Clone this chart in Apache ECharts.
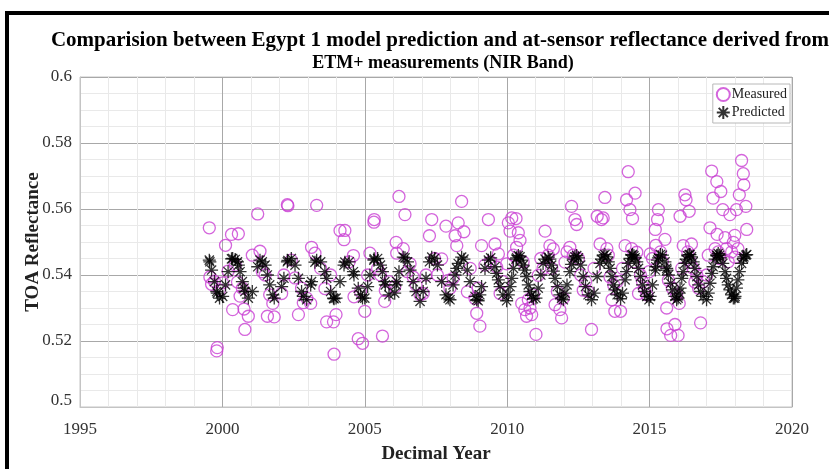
<!DOCTYPE html>
<html><head><meta charset="utf-8">
<script src="https://cdn.jsdelivr.net/npm/echarts@6/dist/echarts.min.js"></script>
<style>html,body{margin:0;padding:0;background:#fff}#c{width:829px;height:469px}</style>
</head><body><div id="c"></div>
<script>
const titleLines = ['Comparision between Egypt 1 model prediction and at-sensor reflectance derived from', 'ETM+ measurements (NIR Band)'];
const xTicks = [1995, 2000, 2005, 2010, 2015, 2020];
const yTicks = [0.5, 0.52, 0.54, 0.56, 0.58, 0.6];
const seriesNames = ['Measured', 'Predicted'];

const dates = [
 1999.54,1999.56,1999.62,1999.72,1999.80,1999.82,1999.90,2000.01,2000.11,2000.20,2000.32,2000.36,2000.45,2000.53,2000.56,2000.62,2000.70,2000.76,2000.79,2000.91,
 2001.05,2001.24,2001.32,2001.40,2001.50,2001.58,2001.66,2001.77,2001.82,2002.08,2002.16,2002.28,2002.30,2002.42,2002.55,2002.67,2002.78,2002.84,2002.96,
 2003.10,2003.13,2003.25,2003.31,2003.45,2003.60,2003.66,2003.80,2003.90,2003.92,2003.99,2004.13,2004.27,2004.30,2004.45,2004.60,2004.62,2004.77,2004.85,2004.92,
 2005.00,2005.10,2005.18,2005.32,2005.33,2005.45,2005.55,2005.62,2005.70,2005.72,2005.85,2006.05,2006.10,2006.12,2006.20,2006.35,2006.41,2006.50,2006.59,2006.70,2006.80,2006.94,
 2007.05,2007.15,2007.27,2007.35,2007.45,2007.55,2007.70,2007.85,2007.93,2007.99,2008.10,2008.17,2008.23,2008.28,2008.40,2008.48,2008.60,2008.70,2008.87,2008.93,2008.98,
 2009.04,2009.10,2009.22,2009.34,2009.42,2009.57,2009.63,2009.69,2009.75,2009.85,2009.98,2010.04,2010.10,2010.16,2010.22,2010.31,2010.33,2010.39,2010.45,2010.51,2010.56,2010.62,2010.68,2010.74,2010.80,2010.86,2010.92,
 2011.01,2011.09,2011.18,2011.26,2011.33,2011.44,2011.50,2011.56,2011.62,2011.68,2011.76,2011.85,2011.91,2011.97,2012.03,2012.10,2012.20,2012.26,2012.32,2012.38,2012.44,2012.50,2012.58,2012.67,2012.75,2012.84,2012.96,
 2013.05,2013.16,2013.26,2013.31,2013.37,2013.43,2013.50,2013.55,2013.61,2013.68,2013.74,2013.78,2013.86,2013.98,2014.05,2014.14,2014.19,2014.25,2014.31,2014.37,2014.40,2014.45,2014.49,2014.55,2014.61,2014.68,2014.75,2014.82,2014.90,2014.98,
 2015.02,2015.10,2015.20,2015.22,2015.28,2015.31,2015.38,2015.45,2015.54,2015.60,2015.61,2015.66,2015.74,2015.80,2015.89,2015.95,2016.00,2016.04,2016.07,2016.13,2016.18,2016.24,2016.28,2016.34,2016.39,2016.42,2016.47,2016.53,2016.59,2016.66,2016.72,2016.79,2016.88,
 2017.00,2017.06,2017.12,2017.18,2017.23,2017.30,2017.36,2017.37,2017.41,2017.46,2017.50,2017.57,2017.65,2017.70,2017.76,2017.82,2017.88,2017.94,2017.99,2018.00,2018.05,2018.10,2018.15,2018.23,2018.29,2018.31,2018.38,2018.41
];
const measured = [
 0.5543,0.5394,0.5372,0.5381,0.5170,0.5180,0.5355,0.5376,0.5490,0.5412,0.5523,0.5295,0.5430,0.5379,0.5525,0.5336,0.5360,0.5297,0.5235,0.5275,
 0.5460,0.5585,0.5472,0.5410,0.5400,0.5275,0.5340,0.5314,0.5273,0.5344,0.5400,0.5613,0.5610,0.5445,0.5391,0.5280,0.5360,0.5316,0.5330,
 0.5314,0.5484,0.5466,0.5611,0.5420,0.5359,0.5258,0.5400,0.5258,0.5160,0.5280,0.5535,0.5507,0.5535,0.5440,0.5459,0.5334,0.5207,0.5350,0.5193,
 0.5290,0.5400,0.5466,0.5560,0.5568,0.5420,0.5400,0.5215,0.5320,0.5353,0.5380,0.5364,0.5499,0.5466,0.5638,0.5480,0.5583,0.5410,0.5434,0.5394,0.5370,0.5340,
 0.5344,0.5400,0.5519,0.5568,0.5450,0.5400,0.5449,0.5548,0.5384,0.5360,0.5390,0.5519,0.5489,0.5558,0.5623,0.5531,0.5349,0.5420,0.5329,0.5284,0.5360,
 0.5245,0.5489,0.5430,0.5568,0.5440,0.5494,0.5424,0.5464,0.5344,0.5380,0.5434,0.5558,0.5533,0.5573,0.5460,0.5571,0.5484,0.5528,0.5505,0.5314,0.5440,0.5295,0.5275,0.5325,0.5300,0.5280,0.5340,
 0.5220,0.5399,0.5450,0.5420,0.5533,0.5460,0.5489,0.5420,0.5479,0.5310,0.5350,0.5295,0.5270,0.5330,0.5439,0.5470,0.5484,0.5608,0.5460,0.5568,0.5553,0.5450,0.5400,0.5354,0.5380,0.5350,0.5235,
 0.5420,0.5578,0.5494,0.5568,0.5573,0.5635,0.5480,0.5460,0.5394,0.5325,0.5370,0.5290,0.5380,0.5290,0.5420,0.5489,0.5628,0.5713,0.5598,0.5480,0.5571,0.5440,0.5648,0.5469,0.5344,0.5400,0.5380,0.5360,0.5340,0.5410,
 0.5464,0.5450,0.5538,0.5490,0.5568,0.5598,0.5470,0.5440,0.5508,0.5300,0.5237,0.5384,0.5217,0.5360,0.5250,0.5340,0.5217,0.5314,0.5578,0.5420,0.5489,0.5643,0.5628,0.5470,0.5593,0.5440,0.5494,0.5420,0.5379,0.5400,0.5360,0.5255,0.5380,
 0.5400,0.5460,0.5543,0.5715,0.5633,0.5480,0.5683,0.5523,0.5470,0.5450,0.5653,0.5598,0.5513,0.5480,0.5440,0.5583,0.5470,0.5499,0.5520,0.5454,0.5598,0.5480,0.5643,0.5747,0.5707,0.5673,0.5608,0.5538
];
const predicted = [
 0.5445,0.5440,0.5415,0.5380,0.5350,0.5345,0.5330,0.5335,0.5370,0.5410,0.5449,0.5450,0.5447,0.5440,0.5430,0.5410,0.5380,0.5360,0.5350,0.5330,
 0.5350,0.5425,0.5445,0.5440,0.5430,0.5400,0.5370,0.5340,0.5330,0.5365,0.5390,0.5440,0.5444,0.5450,0.5430,0.5390,0.5350,0.5335,0.5325,
 0.5370,0.5380,0.5439,0.5445,0.5440,0.5410,0.5390,0.5350,0.5330,0.5328,0.5330,0.5380,0.5430,0.5439,0.5440,0.5410,0.5400,0.5360,0.5340,0.5330,
 0.5330,0.5365,0.5400,0.5445,0.5449,0.5450,0.5430,0.5410,0.5380,0.5370,0.5340,0.5345,0.5370,0.5380,0.5410,0.5454,0.5452,0.5440,0.5415,0.5380,0.5350,0.5320,
 0.5350,0.5390,0.5440,0.5454,0.5450,0.5430,0.5380,0.5340,0.5330,0.5325,0.5370,0.5400,0.5420,0.5435,0.5454,0.5448,0.5415,0.5380,0.5335,0.5325,0.5322,
 0.5340,0.5365,0.5420,0.5445,0.5452,0.5425,0.5405,0.5385,0.5365,0.5340,0.5322,0.5340,0.5365,0.5390,0.5420,0.5448,0.5452,0.5459,0.5455,0.5445,0.5430,0.5415,0.5395,0.5370,0.5350,0.5338,0.5328,
 0.5330,0.5360,0.5400,0.5435,0.5448,0.5454,0.5448,0.5430,0.5412,0.5390,0.5365,0.5340,0.5330,0.5325,0.5345,0.5370,0.5410,0.5432,0.5448,0.5455,0.5459,0.5452,0.5430,0.5395,0.5365,0.5340,0.5325,
 0.5345,0.5395,0.5435,0.5448,0.5458,0.5462,0.5455,0.5440,0.5420,0.5395,0.5370,0.5355,0.5340,0.5328,0.5345,0.5385,0.5410,0.5435,0.5450,0.5460,0.5462,0.5458,0.5452,0.5440,0.5420,0.5395,0.5370,0.5350,0.5335,0.5325,
 0.5335,0.5370,0.5415,0.5425,0.5445,0.5452,0.5462,0.5460,0.5440,0.5420,0.5415,0.5400,0.5375,0.5355,0.5335,0.5325,0.5330,0.5345,0.5360,0.5390,0.5410,0.5435,0.5448,0.5458,0.5462,0.5462,0.5455,0.5440,0.5420,0.5395,0.5370,0.5350,0.5335,
 0.5325,0.5345,0.5375,0.5405,0.5425,0.5448,0.5458,0.5460,0.5465,0.5460,0.5452,0.5435,0.5410,0.5390,0.5370,0.5355,0.5340,0.5330,0.5330,0.5335,0.5360,0.5385,0.5410,0.5435,0.5450,0.5455,0.5460,0.5462
];

const FONT = 'Liberation Serif';
const n = Math.min(dates.length, measured.length, predicted.length);
const measPts = [], predPts = [];
for (let i = 0; i < n; i++) { measPts.push([dates[i], measured[i]]); predPts.push([dates[i], predicted[i]]); }
const ASTER = 'path://M0,-10L0,10M-10,0L10,0M-7.07,-7.07L7.07,7.07M-7.07,7.07L7.07,-7.07';

const chart = echarts.init(document.getElementById('c'), null, {renderer: 'canvas'});
chart.setOption({
  animation: false,
  backgroundColor: '#fff',
  title: [
    {text: titleLines[0], left: 435, top: 25, textAlign: 'center',
     textStyle: {fontFamily: FONT, fontWeight: 'bold', fontSize: 21, color: '#000'}},
    {text: titleLines[1], left: 438, top: 49, textAlign: 'center',
     textStyle: {fontFamily: FONT, fontWeight: 'bold', fontSize: 18, color: '#000'}}
  ],
  graphic: [
    {type: 'rect', left: 5, top: 11, shape: {width: 4, height: 470}, style: {fill: '#000'}, z: 100},
    {type: 'rect', left: 5, top: 11, shape: {width: 830, height: 4}, style: {fill: '#000'}, z: 100}
  ],
  grid: {left: 80, top: 77, right: 37, bottom: 57, show: true, borderColor: '#c4c4c4', borderWidth: 1, containLabel: false},
  legend: {
    data: seriesNames, orient: 'vertical', right: 39, top: 84,
    itemWidth: 13, itemHeight: 13, itemGap: 3, padding: [3, 3, 3, 3],
    borderColor: '#b8b8b8', borderWidth: 1, backgroundColor: '#fff',
    textStyle: {fontFamily: FONT, fontSize: 14, color: '#222', padding: [0, 0, 0, -3]}
  },
  xAxis: {
    type: 'value', min: xTicks[0], max: xTicks[xTicks.length - 1], interval: 5,
    name: 'Decimal Year', nameLocation: 'middle', nameGap: 38, nameMoveOverlap: false,
    nameTextStyle: {fontFamily: FONT, fontWeight: 'bold', fontSize: 19, color: '#222'},
    axisLine: {show: true, lineStyle: {color: '#c4c4c4'}},
    axisTick: {show: false},
    axisLabel: {fontFamily: FONT, fontSize: 17, color: '#333', margin: 14, formatter: v => String(v)},
    splitLine: {show: true, lineStyle: {color: '#a8a8a8', width: 1}},
    minorTick: {show: false, splitNumber: 5},
    minorSplitLine: {show: true, lineStyle: {color: '#e9e9e9', width: 1}}
  },
  yAxis: {
    type: 'value', min: yTicks[0], max: yTicks[yTicks.length - 1], interval: 0.02,
    name: 'TOA Reflectance', nameLocation: 'middle', nameGap: 37, nameMoveOverlap: false,
    nameTextStyle: {fontFamily: FONT, fontWeight: 'bold', fontSize: 19, color: '#222'},
    axisLine: {show: true, lineStyle: {color: '#c4c4c4'}},
    axisTick: {show: false},
    axisLabel: {fontFamily: FONT, fontSize: 17, color: '#333', margin: 8,
      formatter: v => (Math.abs(v - 0.5) < 1e-9 ? '{lo|0.5}' : String(+v.toFixed(2))),
      rich: {lo: {fontFamily: FONT, fontSize: 17, color: '#333', padding: [0, 0, 12, 0]}}},
    splitLine: {show: true, lineStyle: {color: '#a8a8a8', width: 1}},
    minorTick: {show: false, splitNumber: 4},
    minorSplitLine: {show: true, lineStyle: {color: '#e9e9e9', width: 1}}
  },
  series: [
    {name: seriesNames[0], type: 'scatter', data: measPts, symbol: 'circle', symbolSize: 12,
     itemStyle: {color: 'rgba(0,0,0,0)', borderColor: '#c93fd3', borderWidth: 1.3}},
    {name: seriesNames[1], type: 'scatter', data: predPts, symbol: ASTER, symbolSize: 13,
     itemStyle: {color: 'rgba(0,0,0,0)', borderColor: '#000', borderWidth: 1.3}}
  ]
});
</script></body></html>
